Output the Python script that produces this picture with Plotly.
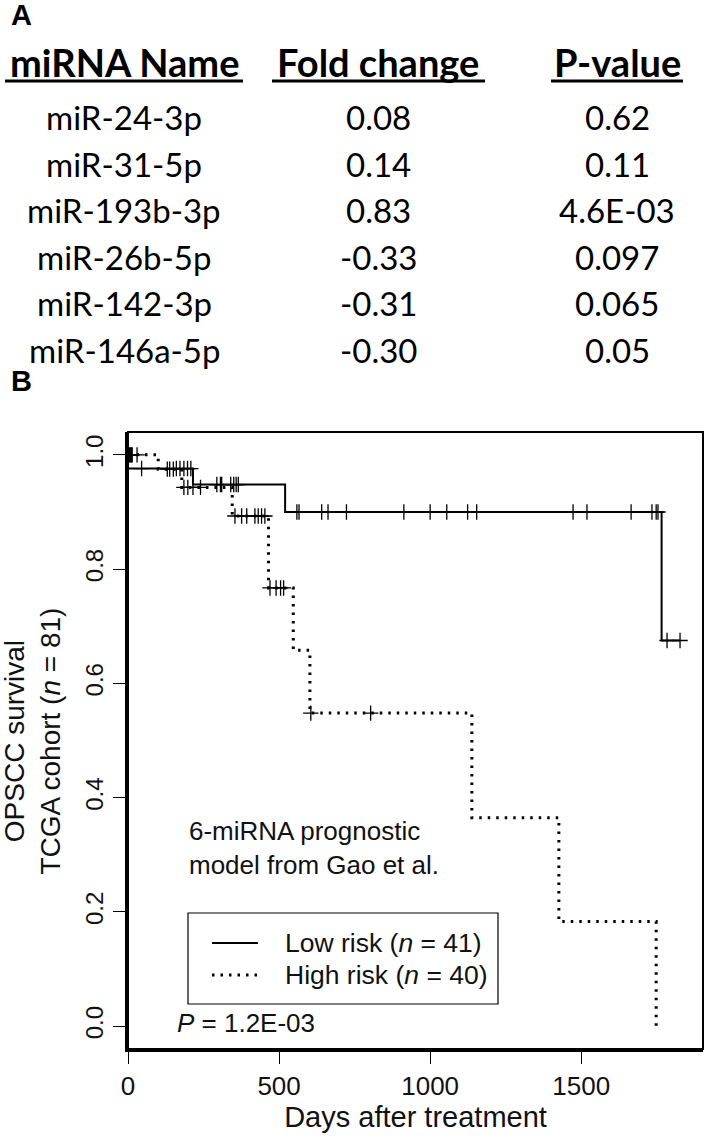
import plotly.graph_objects as go
import numpy as np

# ---------------- data ----------------
headers = ["miRNA Name", "Fold change", "P-value"]
mirna_names = ["miR-24-3p", "miR-31-5p", "miR-193b-3p", "miR-26b-5p", "miR-142-3p", "miR-146a-5p"]
fold_change = [0.08, 0.14, 0.83, -0.33, -0.31, -0.30]
p_values = ["0.62", "0.11", "4.6E-03", "0.097", "0.065", "0.05"]

# Kaplan-Meier step curves (time of event, survival after event)
low_t = [0, 0, 215, 520, 1766, 1827]
low_s = [1.0, 0.976, 0.948, 0.900, 0.675, 0.675]
high_t = [0, 100, 178, 345, 465, 547, 602, 1138, 1426, 1748]
high_s = [1.0, 0.975, 0.943, 0.893, 0.767, 0.658, 0.548, 0.365, 0.183, 0.0]

# censoring times
low_cens = [45, 160, 172, 185, 197, 208, 294, 306, 310, 340, 350, 358, 365,
            559, 566, 641, 662, 723, 913, 1000, 1055, 1124, 1154, 1473, 1519,
            1665, 1734, 1748, 1754, 1784, 1827]
high_cens = [2, 5, 8, 11, 14, 30, 130, 138, 150, 185, 198, 215, 240,
             354, 376, 393, 420, 431, 442, 453, 470, 490, 505, 515, 605, 803]

low_label = "Low risk (<i>n</i> = 41)"
high_label = "High risk (<i>n</i> = 40)"
p_text = "<i>P</i> = 1.2E-03"
model_text = "6-miRNA prognostic<br>model from Gao et al."
y_title = "OPSCC survival<br>TCGA cohort (<i>n</i> = 81)"
x_title = "Days after treatment"


def surv_at(times, t_ev, s_ev):
    t_ev = np.asarray(t_ev, float)
    s_ev = np.asarray(s_ev, float)
    idx = np.searchsorted(t_ev, np.asarray(times, float), side="right") - 1
    return s_ev[idx]


# ---------------- layout geometry ----------------
W, H = 709, 1140
ML, MR, MT, MB = 128, 6, 432, 91
PW, PH = W - ML - MR, H - MT - MB


def fx(px):
    return (px - ML) / PW


def fy(py):
    return (H - MB - py) / PH


PLOT_FONT = "Liberation Sans, Arial, sans-serif"
TABLE_FONT = "Lato, Open Sans, sans-serif"
DOT = "2.5px,6px"

fig = go.Figure()

fig.add_trace(go.Scatter(
    x=low_t, y=low_s, mode="lines", name=low_label, showlegend=False,
    line=dict(color="black", width=2, shape="hv"),
))
fig.add_trace(go.Scatter(
    x=high_t, y=high_s, mode="lines", name=high_label, showlegend=False,
    line=dict(color="black", width=3, shape="hv", dash=DOT),
))
fig.add_trace(go.Scatter(
    x=low_cens, y=surv_at(low_cens, low_t, low_s), mode="markers", showlegend=False,
    marker=dict(symbol="cross-thin", size=11, line=dict(width=1.3, color="black")),
))
fig.add_trace(go.Scatter(
    x=high_cens, y=surv_at(high_cens, high_t, high_s), mode="markers", showlegend=False,
    marker=dict(symbol="cross-thin", size=11, line=dict(width=1.3, color="black")),
))

ann = []
shapes = []
# Panel labels
ann.append(dict(text="<b>A</b>", x=fx(9), y=fy(15), xref="paper", yref="paper",
                xanchor="left", yanchor="middle", showarrow=False,
                font=dict(family=PLOT_FONT, size=29, color="black")))
ann.append(dict(text="<b>B</b>", x=fx(9), y=fy(381), xref="paper", yref="paper",
                xanchor="left", yanchor="middle", showarrow=False,
                font=dict(family=PLOT_FONT, size=29, color="black")))

# Table
col_x = [124, 378, 617]
header_y = 62
row_y0, row_dy = 117, 46.6
under = [(5, 243), (272, 485), (551, 683)]
for i, h in enumerate(headers):
    ann.append(dict(text="<b>%s</b>" % h, x=fx(col_x[i]), y=fy(header_y), xref="paper", yref="paper",
                    xanchor="center", yanchor="middle", showarrow=False,
                    font=dict(family=TABLE_FONT, size=38, color="black")))
    shapes.append(dict(type="line", xref="paper", yref="paper",
                       x0=fx(under[i][0]), x1=fx(under[i][1]), y0=fy(81), y1=fy(81),
                       line=dict(color="black", width=3)))
for r, (nm, fc, pv) in enumerate(zip(mirna_names, fold_change, p_values)):
    yy = fy(row_y0 + r * row_dy)
    for c, txt in enumerate([nm, "%.2f" % fc, pv]):
        ann.append(dict(text=txt, x=fx(col_x[c]), y=yy, xref="paper", yref="paper",
                        xanchor="center", yanchor="middle", showarrow=False,
                        font=dict(family=TABLE_FONT, size=33, color="black")))

# Plot annotations
ann.append(dict(text=model_text, x=fx(187), y=fy(848), xref="paper", yref="paper",
                xanchor="left", yanchor="middle", align="left", showarrow=False,
                font=dict(family=PLOT_FONT, size=26, color="#111")))
ann.append(dict(text=p_text, x=fx(175), y=fy(1023), xref="paper", yref="paper",
                xanchor="left", yanchor="middle", showarrow=False,
                font=dict(family=PLOT_FONT, size=26, color="#111")))

# Y-axis title (two lines, rotated)
ann.append(dict(text=y_title, x=fx(32), y=0.5, xref="paper", yref="paper",
                xanchor="center", yanchor="middle", textangle=-90, showarrow=False,
                font=dict(family=PLOT_FONT, size=28, color="#111")))

# Legend (box, keys, labels)
shapes.append(dict(type="rect", xref="paper", yref="paper",
                   x0=fx(188), x1=fx(498), y0=fy(1004), y1=fy(913),
                   line=dict(color="black", width=1.2), fillcolor="white", layer="above"))
shapes.append(dict(type="line", xref="paper", yref="paper",
                   x0=fx(212), x1=fx(258), y0=fy(943), y1=fy(943),
                   line=dict(color="black", width=2), layer="above"))
shapes.append(dict(type="line", xref="paper", yref="paper",
                   x0=fx(212), x1=fx(258), y0=fy(975), y1=fy(975),
                   line=dict(color="black", width=3, dash=DOT), layer="above"))
for lab, ly in [(low_label, 943), (high_label, 975)]:
    ann.append(dict(text=lab, x=fx(283), y=fy(ly), xref="paper", yref="paper",
                    xanchor="left", yanchor="middle", showarrow=False,
                    font=dict(family=PLOT_FONT, size=26.5, color="#111")))

# Plot frame
shapes.append(dict(type="rect", xref="paper", yref="paper", x0=0, x1=1, y0=0, y1=1,
                   line=dict(color="black", width=2), layer="above"))

fig.update_layout(
    width=W, height=H,
    margin=dict(l=ML, r=MR, t=MT, b=MB),
    paper_bgcolor="white", plot_bgcolor="white",
    annotations=ann, shapes=shapes,
    showlegend=False,
    xaxis=dict(range=[0, 1903], tickvals=[0, 500, 1000, 1500], ticks="outside",
               ticklen=12, tickwidth=1.3, tickcolor="black",
               showline=True, linewidth=3, linecolor="black",
               showgrid=False, zeroline=False,
               tickfont=dict(family=PLOT_FONT, size=26, color="#111"),
               title=dict(text=x_title, standoff=6,
                          font=dict(family=PLOT_FONT, size=29, color="#111"))),
    yaxis=dict(range=[-0.04, 1.04], tickvals=[0, 0.2, 0.4, 0.6, 0.8, 1.0], tickformat=".1f",
               tickangle=-90, ticks="outside", ticklen=12, tickwidth=1.3, tickcolor="black",
               showline=True, linewidth=3, linecolor="black",
               showgrid=False, zeroline=False,
               tickfont=dict(family=PLOT_FONT, size=24, color="#111")),
)

fig.write_html("out.html", config={"displayModeBar": False},
               post_script="document.body.style.margin='0px';")
